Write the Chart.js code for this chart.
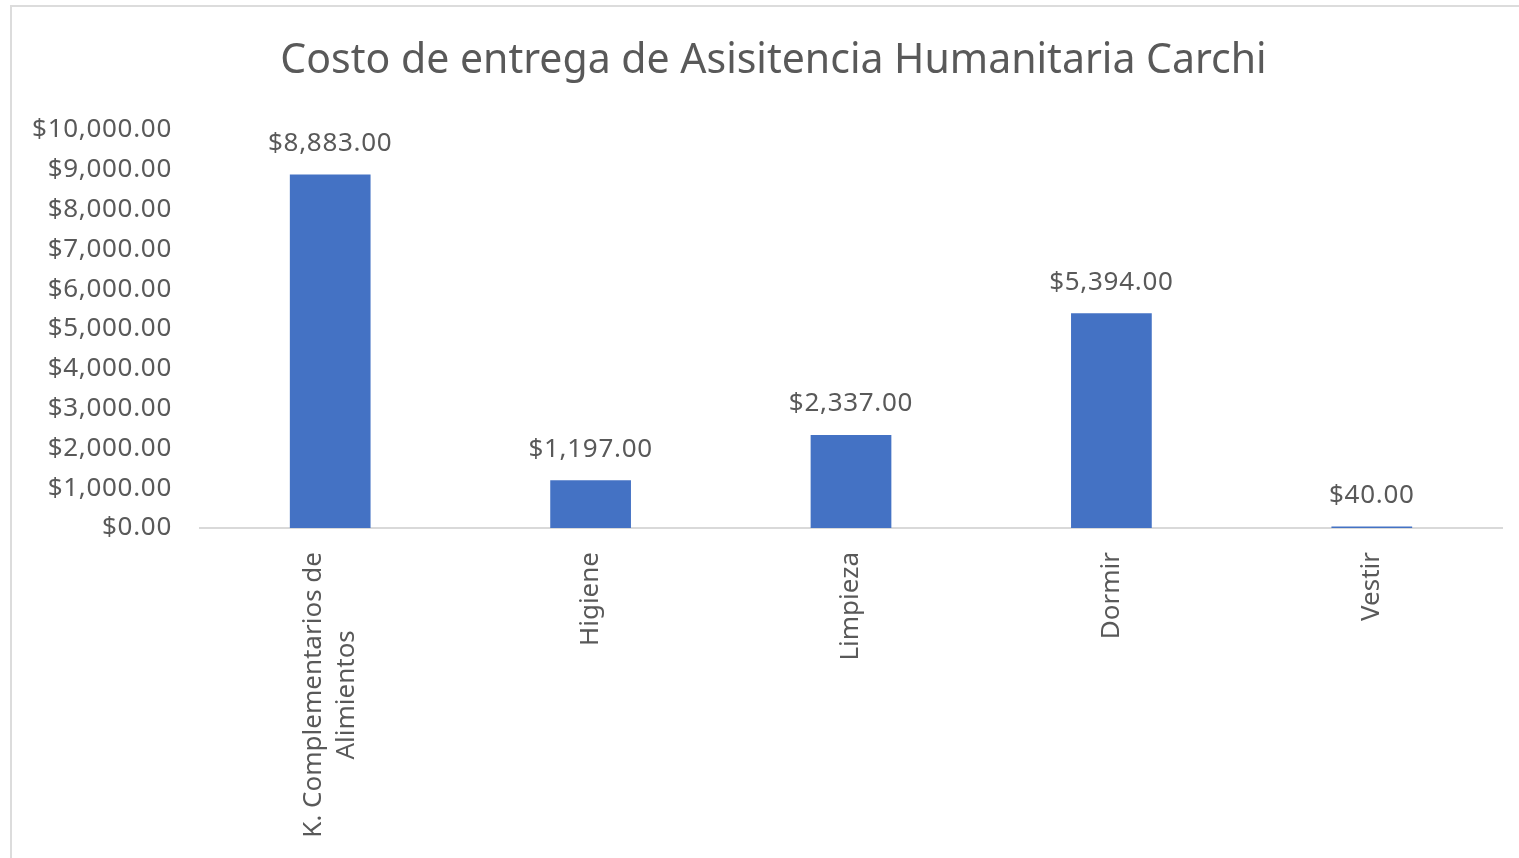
<!DOCTYPE html>
<html>
<head>
<meta charset="utf-8">
<script src="https://cdn.jsdelivr.net/npm/chart.js@4"></script>
<style>
  body { margin: 0; background: #fff; overflow: hidden; }
  #frame {
    position: absolute; left: 10px; top: 5px; width: 1600px; height: 900px;
    border-top: 2px solid #dcdcdc; border-left: 2px solid #dcdcdc;
  }
  #myChart { position: absolute; left: 0; top: 0; }
</style>
</head>
<body>
<div id="frame"></div>
<canvas id="myChart" width="1519" height="858"></canvas>
<script>
// categories (x axis)
const categories = [
  ["K. Complementarios de", "Alimientos"],
  ["Higiene"],
  ["Limpieza"],
  ["Dormir"],
  ["Vestir"],
];
// cost per category
const costs = [8883, 1197, 2337, 5394, 40];
// y axis range
const yMin = 0;
const yMax = 10000;
const yStep = 1000;

const chartTitle = "Costo de entrega de Asisitencia Humanitaria Carchi";
const textColor = "#595959";
const fontFamily = "'Noto Sans', sans-serif";

let money = (v) =>
  "$" + Number(v).toLocaleString("en-US", { minimumFractionDigits: 2, maximumFractionDigits: 2 });

// a bit of letter spacing so numbers are as wide as in the original
const spacing = {
  id: "spacing",
  beforeDraw(chart) {
    chart.ctx.letterSpacing = "0.7px";
  },
};

// title, centred on the frame rather than the canvas
const titlePlugin = {
  id: "titlePlugin",
  afterDraw(chart) {
    const ctx = chart.ctx;
    ctx.save();
    ctx.letterSpacing = "0px";
    ctx.fillStyle = textColor;
    ctx.font = "41px " + fontFamily;
    ctx.textAlign = "center";
    ctx.textBaseline = "middle";
    ctx.fillText(chartTitle, chart.width / 2 + 14, 61);
    ctx.restore();
  },
};

// value labels above each bar
const valueLabels = {
  id: "valueLabels",
  afterDatasetsDraw(chart) {
    const ctx = chart.ctx;
    const meta = chart.getDatasetMeta(0);
    ctx.save();
    ctx.fillStyle = textColor;
    ctx.font = "26px " + fontFamily;
    ctx.textAlign = "center";
    ctx.textBaseline = "middle";
    meta.data.forEach((bar, i) => {
      ctx.fillText(money(costs[i]), bar.x, bar.y - 31);
    });
    ctx.restore();
  },
};

// vertical category labels, lines centred on the tick
const xLabels = {
  id: "xLabels",
  afterDraw(chart) {
    const ctx = chart.ctx;
    const xs = chart.scales.x;
    const top = chart.chartArea.bottom + 24;
    const lineH = 33;
    ctx.save();
    ctx.letterSpacing = "0px";
    ctx.fillStyle = textColor;
    ctx.font = "26px " + fontFamily;
    categories.forEach((lines, i) => {
      const x = xs.getPixelForValue(i);
      const widths = lines.map((l) => ctx.measureText(l).width);
      const maxW = Math.max(...widths);
      const midY = top + maxW / 2;
      lines.forEach((line, j) => {
        const off = (j - (lines.length - 1) / 2) * lineH;
        ctx.save();
        ctx.translate(x + off, midY);
        ctx.rotate(-Math.PI / 2);
        ctx.textAlign = "center";
        ctx.textBaseline = "middle";
        ctx.fillText(line, 0, 0);
        ctx.restore();
      });
    });
    ctx.restore();
  },
};

let ctx = document.getElementById("myChart").getContext("2d");
let myChart = new Chart(ctx, {
  type: "bar",
  data: {
    labels: categories.map((c) => c.join(" ")),
    datasets: [
      {
        label: "Costo",
        data: costs,
        backgroundColor: "#4472C4",
        borderWidth: 0,
        barPercentage: 0.31,
        categoryPercentage: 1,
      },
    ],
  },
  options: {
    responsive: false,
    animation: false,
    layout: { padding: { left: 0, right: 17, top: 130, bottom: 0 } },
    plugins: {
      legend: { display: false },
      tooltip: { enabled: false },
      title: { display: false },
    },
    scales: {
      x: {
        grid: { display: false, drawTicks: false },
        border: { display: true, color: "#d9d9d9", width: 2 },
        ticks: { display: false },
        afterFit: (scale) => { scale.height = 330; },
      },
      y: {
        min: yMin,
        max: yMax,
        grid: { display: false, drawTicks: false },
        border: { display: false },
        ticks: {
          stepSize: yStep,
          color: textColor,
          padding: 28,
          font: { family: fontFamily, size: 26 },
          callback: (v) => money(v),
        },
        afterFit: (scale) => { scale.width = 200; },
      },
    },
  },
  plugins: [spacing, titlePlugin, valueLabels, xLabels],
});
</script>
</body>
</html>
